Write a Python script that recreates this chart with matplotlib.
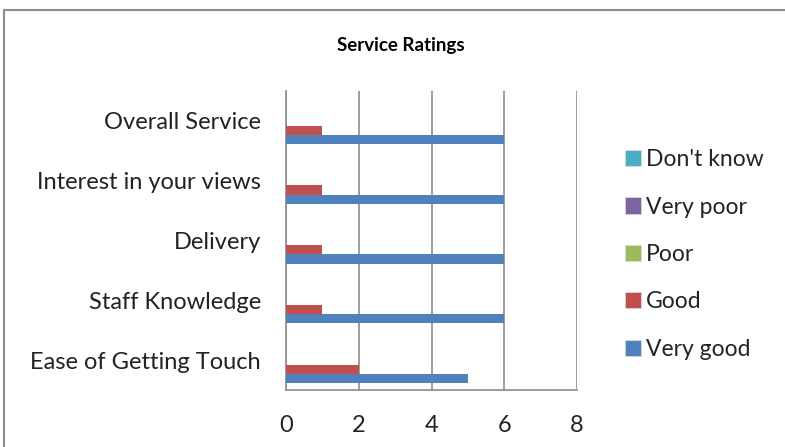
import numpy as np
import matplotlib.pyplot as plt
from matplotlib.patches import Rectangle, Patch

# Datos
categorias = ["Ease of Getting Touch", "Staff Knowledge", "Delivery",
              "Interest in your views", "Overall Service"]
series = ["Very good", "Good", "Poor", "Very poor", "Don't know"]
very_good = [5, 6, 6, 6, 6]
good = [2, 1, 1, 1, 1]
poor = [0, 0, 0, 0, 0]
very_poor = [0, 0, 0, 0, 0]
dont_know = [0, 0, 0, 0, 0]
valores = [very_good, good, poor, very_poor, dont_know]
colores = ["#4F81BD", "#C0504D", "#9BBB59", "#8064A2", "#4BACC6"]
ticks_x = [0, 2, 4, 6, 8]

plt.rcParams['font.family'] = ['Lato', 'DejaVu Sans']

fig = plt.figure(figsize=(7.85, 4.47), dpi=100)
ax = fig.add_axes([286 / 785, 1 - 390 / 447, (577 - 286) / 785, (390 - 91) / 447])

y = np.arange(len(categorias))
h = 1 / 6.5
for i, (nombre, vals, col) in enumerate(zip(series, valores, colores)):
    ax.barh(y + (i - 2) * h, vals, height=h, color=col, label=nombre,
            linewidth=0, zorder=3)

ax.set_xlim(0, 8)
ax.set_ylim(-0.5, len(categorias) - 0.5)
ax.set_xticks(ticks_x)
ax.set_yticks(y)
ax.set_yticklabels(categorias, fontsize=17, color="#222222")
ax.tick_params(axis='x', length=0, pad=18, labelsize=17, labelcolor="#222222")
ax.tick_params(axis='y', length=0, pad=18)
ax.xaxis.grid(True, color="#8C8C8C", linewidth=1.2, zorder=0)
for s in ["top", "right"]:
    ax.spines[s].set_visible(False)
for s in ["left", "bottom"]:
    ax.spines[s].set_color("#8C8C8C")
    ax.spines[s].set_linewidth(1.2)

fig.text(401 / 785, 1 - 46 / 447, "Service Ratings", ha='center', va='center',
         fontsize=13.5, fontweight='bold')

# Leyenda
handles = [Patch(facecolor=c, edgecolor="#DDDDDD", linewidth=0.5) for c in colores]
leg = fig.legend(handles[::-1], series[::-1], loc='upper left',
                 bbox_to_anchor=(616 / 785, 1 - 140 / 447), frameon=False,
                 fontsize=16.5, handlelength=0.7, handleheight=0.7,
                 handletextpad=0.22, labelspacing=1.15, borderaxespad=0)
for t in leg.get_texts():
    t.set_color("#222222")

# Borde del grafico
fig.patches.append(Rectangle((4 / 785, -0.1), 2, 1 - 10 / 447 + 0.1,
                             transform=fig.transFigure, fill=False,
                             edgecolor="#8C8C8C", linewidth=1.5))

fig.savefig("out.png", dpi=100)
